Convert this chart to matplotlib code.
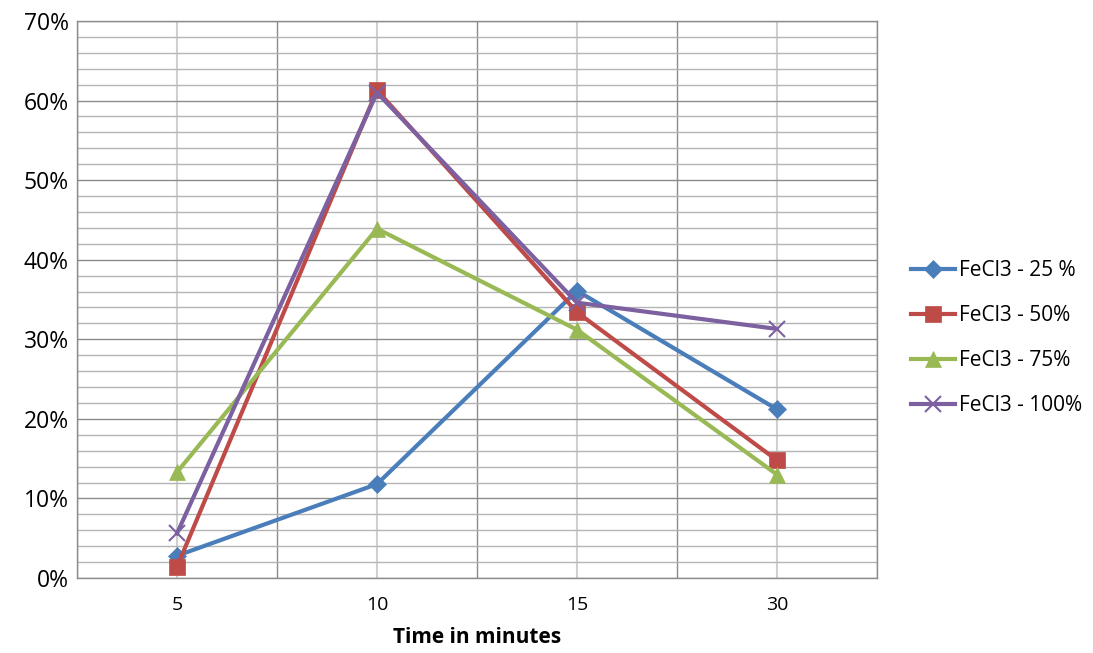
import matplotlib
matplotlib.use("Agg")
import matplotlib.pyplot as plt
from matplotlib.ticker import MultipleLocator, FuncFormatter, FixedLocator

categories = ["5", "10", "15", "30"]
series_names = ["FeCl3 - 25 %", "FeCl3 - 50%", "FeCl3 - 75%", "FeCl3 - 100%"]
fecl3_25 = [2.8, 11.8, 36.1, 21.2]
fecl3_50 = [1.4, 61.3, 33.4, 14.8]
fecl3_75 = [13.3, 43.9, 31.2, 13.0]
fecl3_100 = [5.6, 61.0, 34.6, 31.3]

colors = ["#4A7EBB", "#BE4B48", "#98B954", "#7D60A0"]
markers = ["D", "s", "^", "x"]
msizes = [9, 11, 12, 11]

plt.rcParams["font.family"] = ["Open Sans", "DejaVu Sans"]

fig = plt.figure(figsize=(10.93, 6.53), dpi=100)
ax = fig.add_axes([77 / 1093, 75 / 653, 800 / 1093, 557 / 653])

x = list(range(len(categories)))
for vals, name, c, m, ms in zip([fecl3_25, fecl3_50, fecl3_75, fecl3_100],
                                series_names, colors, markers, msizes):
    ax.plot(x, vals, color=c, lw=3, marker=m, markersize=ms,
            markeredgewidth=1.5 if m == "x" else 0.5, markeredgecolor=c,
            label=name, zorder=3)

ax.set_xlim(-0.5, 3.5)
ax.set_ylim(0, 70)

# value axis: major every 10 %, minor every 2 %
ax.yaxis.set_major_locator(MultipleLocator(10))
ax.yaxis.set_minor_locator(MultipleLocator(2))
ax.yaxis.set_major_formatter(FuncFormatter(lambda v, p: f"{int(v)}%"))

# category axis: labels at centres, dividers between categories
ax.xaxis.set_major_locator(FixedLocator([-0.5, 0.5, 1.5, 2.5, 3.5]))
ax.xaxis.set_minor_locator(FixedLocator(x))
ax.set_xticklabels([])
ax.set_xticklabels(categories, minor=True)

ax.grid(which="major", axis="both", color="#8C8C8C", lw=1.0, zorder=0)
ax.grid(which="minor", axis="y", color="#B4B4B4", lw=1.0, zorder=0)
ax.grid(which="minor", axis="x", color="#D0D0D0", lw=1.5, zorder=0)

ax.tick_params(which="both", length=0)
ax.tick_params(axis="y", labelsize=16.5, pad=6, colors="#000000")
ax.tick_params(axis="x", which="minor", labelsize=14, pad=13)

for s in ax.spines.values():
    s.set_color("#8C8C8C")
    s.set_linewidth(1.0)

ax.set_xlabel("Time in minutes", fontsize=15, fontweight="bold", labelpad=9)

leg = fig.legend(loc="center left", bbox_to_anchor=(892 / 1093, 315 / 653),
                 frameon=False, fontsize=15, handlelength=2.1,
                 labelspacing=1.15, handletextpad=0.2)

fig.savefig("out.png", dpi=100)
